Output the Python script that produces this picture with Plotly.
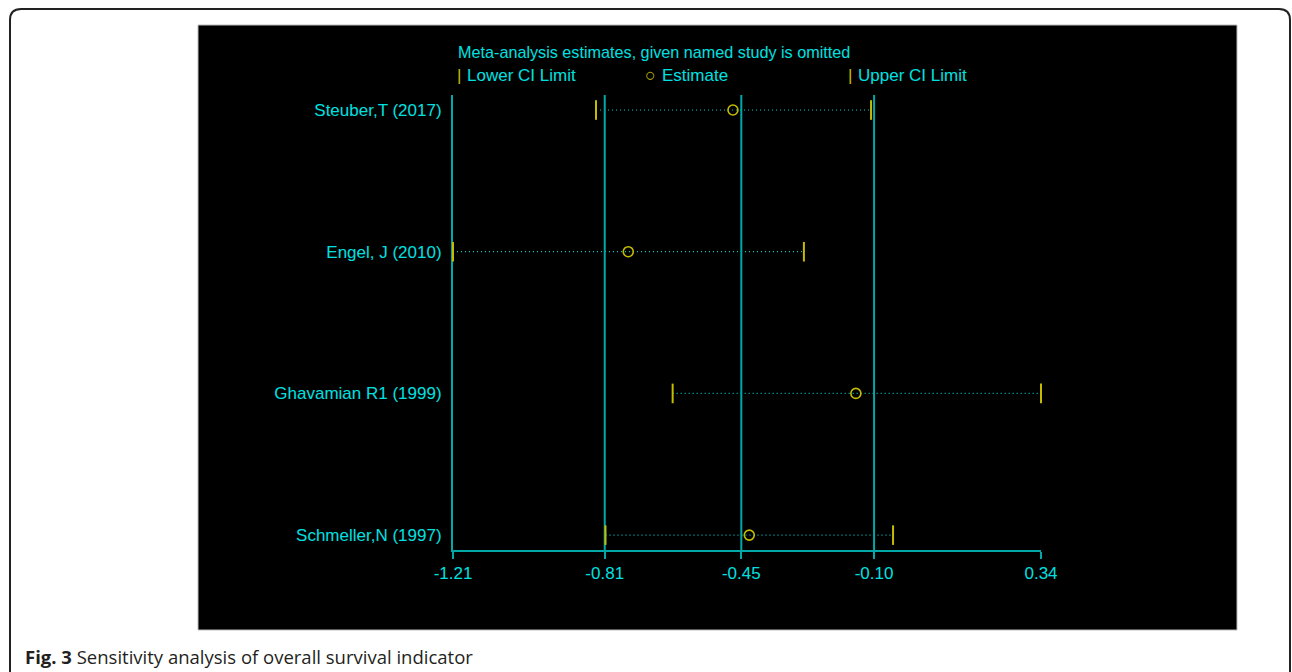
import plotly.graph_objects as go

# Leave-one-out sensitivity analysis: pooled estimate with 95% CI when each study is omitted
studies = ["Steuber,T (2017)", "Engel, J (2010)", "Ghavamian R1 (1999)", "Schmeller,N (1997)"]
estimate = [-0.472, -0.748, -0.148, -0.429]
lower_ci = [-0.833, -1.21, -0.631, -0.808]
upper_ci = [-0.108, -0.285, 0.34, -0.05]

tick_vals = [-1.21, -0.81, -0.45, -0.10, 0.34]
tick_text = ["-1.21", "-0.81", "-0.45", "-0.10", "0.34"]
ref_lines = [-0.81, -0.45, -0.10]

W, H = 1292, 672
CYAN = "#00e0e0"
TEAL = "#00a8a8"
DOT = "#00c8c8"
YELLOW = "#c4bc00"
FONT = "Liberation Sans, Arial, sans-serif"


def px(x):
    return x / W


def py(y):
    return 1 - y / H


rows = list(range(len(studies), 0, -1))  # top row first

fig = go.Figure()

# dotted CI spans
for r, lo, hi in zip(rows, lower_ci, upper_ci):
    fig.add_trace(go.Scatter(
        x=[lo, hi], y=[r, r], mode="lines",
        line=dict(color=DOT, width=1.2, dash="1px,3px"),
        hoverinfo="skip", showlegend=False))

# reference verticals
y_lo, y_hi = 0.895, 4.106
vx, vy = [], []
for v in ref_lines:
    vx += [v, v, None]
    vy += [y_lo - 0.05, y_hi, None]
fig.add_trace(go.Scatter(x=vx, y=vy, mode="lines", line=dict(color=TEAL, width=2),
                         hoverinfo="skip", showlegend=False, cliponaxis=False))

# CI limit ticks
fig.add_trace(go.Scatter(
    x=lower_ci + upper_ci, y=rows + rows, mode="markers",
    marker=dict(symbol="line-ns", size=14, line=dict(color=YELLOW, width=2)),
    hoverinfo="skip", showlegend=False, cliponaxis=False))

# point estimates
fig.add_trace(go.Scatter(
    x=estimate, y=rows, mode="markers",
    marker=dict(symbol="circle-open", size=10, color=YELLOW, line=dict(color=YELLOW, width=1.6)),
    hoverinfo="skip", showlegend=False, cliponaxis=False))

fig.update_layout(
    width=W, height=H,
    margin=dict(l=0, r=0, t=0, b=0, pad=0, autoexpand=False),
    paper_bgcolor="white",
    plot_bgcolor="rgba(0,0,0,0)",
    showlegend=False,
    font=dict(family=FONT, color=CYAN, size=17),
    xaxis=dict(
        domain=[px(453), px(1041)],
        range=[-1.21, 0.34],
        tickvals=tick_vals, ticktext=tick_text,
        ticks="outside", ticklen=7, tickwidth=2, tickcolor=TEAL,
        showline=True, linecolor=TEAL, linewidth=2,
        showgrid=False, zeroline=False, automargin=False,
        layer="below traces",
        tickfont=dict(size=17, color=CYAN, family=FONT),
    ),
    yaxis=dict(
        domain=[py(550), py(95)],
        range=[y_lo, y_hi],
        tickvals=rows, ticktext=studies,
        ticks="", showline=True, linecolor=TEAL, linewidth=2,
        showgrid=False, zeroline=False, automargin=False,
        layer="below traces",
        ticklabelstandoff=6,
        tickfont=dict(size=17, color=CYAN, family=FONT),
    ),
)

shapes = [
    # page frame with rounded top corners
    dict(type="path", xref="paper", yref="paper",
         path=(f"M {px(10)},{py(680)} L {px(10)},{py(20)} Q {px(10)},{py(9)} {px(21)},{py(9)} "
               f"L {px(1279)},{py(9)} Q {px(1290)},{py(9)} {px(1290)},{py(20)} L {px(1290)},{py(680)}"),
         line=dict(color="#222222", width=2), layer="below"),
    # black plotting panel
    dict(type="rect", xref="paper", yref="paper",
         x0=px(198), x1=px(1237), y0=py(630), y1=py(25),
         fillcolor="black", line=dict(color="#bbbbbb", width=1), layer="below"),
]
fig.update_layout(shapes=shapes)

ann = [
    dict(text="Meta-analysis estimates, given named study is omitted", x=px(456), y=py(52), size=16.2),
    dict(text="|", x=px(455), y=py(75), color=YELLOW),
    dict(text="Lower CI Limit", x=px(465), y=py(75)),
    dict(text="○", x=px(643), y=py(75), color=YELLOW, size=18),
    dict(text="Estimate", x=px(660), y=py(75)),
    dict(text="|", x=px(846), y=py(75), color=YELLOW),
    dict(text="Upper CI Limit", x=px(856), y=py(75)),
]
for a in ann:
    fig.add_annotation(
        text=a["text"], x=a["x"], y=a["y"], xref="paper", yref="paper",
        xanchor="left", yanchor="middle", showarrow=False,
        font=dict(family=FONT, size=a.get("size", 17), color=a.get("color", CYAN)))

fig.add_annotation(
    text="<b>Fig. 3</b> Sensitivity analysis of overall survival indicator",
    x=px(23), y=py(656), xref="paper", yref="paper", xanchor="left", yanchor="middle",
    showarrow=False, font=dict(family="Open Sans, Noto Sans, sans-serif", size=18.5, color="#231f20"))

fig.write_html("out.html")
